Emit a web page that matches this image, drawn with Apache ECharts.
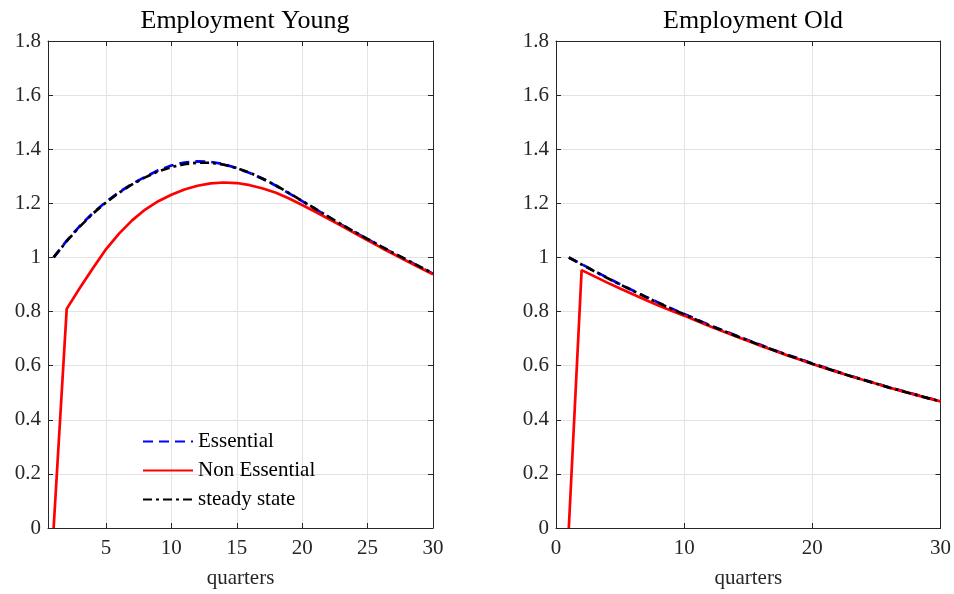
<!DOCTYPE html>
<html>
<head>
<meta charset="utf-8">
<script src="https://cdn.jsdelivr.net/npm/echarts@6/dist/echarts.min.js"></script>
<style>
  html, body { margin: 0; padding: 0; background: #fff; }
  #box { width: 954px; height: 594px; }
</style>
</head>
<body>
<div id="box"></div>
<script>
// quarters 1..30
const quarters = [1, 2, 3, 4, 5, 6, 7, 8, 9, 10, 11, 12, 13, 14, 15, 16, 17, 18, 19, 20, 21, 22, 23, 24, 25, 26, 27, 28, 29, 30]

// Employment Young
const youngEssential = [1.000, 1.062, 1.116, 1.164, 1.205, 1.241, 1.272, 1.298, 1.322, 1.340, 1.351, 1.355, 1.353, 1.345, 1.330, 1.312, 1.290, 1.265, 1.237, 1.208, 1.179, 1.150, 1.121, 1.094, 1.067, 1.041, 1.015, 0.990, 0.965, 0.940]
const youngNonEssential = [0.000, 0.810, 0.887, 0.960, 1.030, 1.088, 1.137, 1.177, 1.208, 1.232, 1.251, 1.265, 1.274, 1.277, 1.275, 1.267, 1.255, 1.239, 1.218, 1.194, 1.169, 1.143, 1.117, 1.090, 1.063, 1.037, 1.012, 0.987, 0.962, 0.938]
const youngSteady = [1.000, 1.060, 1.114, 1.162, 1.203, 1.239, 1.270, 1.296, 1.318, 1.334, 1.345, 1.350, 1.350, 1.343, 1.330, 1.313, 1.291, 1.266, 1.238, 1.209, 1.180, 1.151, 1.122, 1.095, 1.068, 1.042, 1.016, 0.991, 0.966, 0.941]

// Employment Old
const oldEssential = [1.000, 0.975, 0.950, 0.925, 0.901, 0.878, 0.855, 0.833, 0.811, 0.791, 0.770, 0.750, 0.731, 0.712, 0.694, 0.676, 0.658, 0.641, 0.625, 0.608, 0.593, 0.577, 0.562, 0.548, 0.534, 0.520, 0.507, 0.494, 0.481, 0.469]
const oldNonEssential = [0.000, 0.953, 0.930, 0.907, 0.885, 0.864, 0.843, 0.822, 0.803, 0.785, 0.765, 0.746, 0.727, 0.709, 0.691, 0.673, 0.656, 0.639, 0.623, 0.606, 0.591, 0.576, 0.561, 0.547, 0.533, 0.519, 0.506, 0.493, 0.480, 0.468]
const oldSteady = [1.000, 0.974, 0.949, 0.924, 0.900, 0.877, 0.854, 0.832, 0.810, 0.790, 0.769, 0.749, 0.730, 0.711, 0.693, 0.675, 0.657, 0.640, 0.624, 0.607, 0.592, 0.576, 0.561, 0.547, 0.533, 0.519, 0.506, 0.493, 0.480, 0.468]

const youngTicks = [5, 10, 15, 20, 25, 30]
const oldTicks = [0, 10, 20, 30]
const titles = ['Employment Young', 'Employment Old']
const seriesNames = ['Essential', 'Non Essential', 'steady state']

const font = 'Liberation Serif'
const ink = '#262626'
const pair = arr => quarters.map((q, i) => [q, arr[i]])

function xAxisCfg (grid, pos, min, ticks, labels) {
  return {
    type: 'value', gridIndex: grid, position: pos, min: min, max: 30,
    axisLine: { show: true, onZero: false, lineStyle: { color: ink, width: 1 } },
    axisTick: { show: true, inside: true, length: 5, customValues: ticks, lineStyle: { color: ink } },
    axisLabel: { show: labels, customValues: ticks, color: ink, fontFamily: font, fontSize: 21, margin: 10 },
    splitLine: { show: labels, lineStyle: { color: '#e3e3e3', width: 1 } },
    name: labels ? 'quarters' : '', nameLocation: 'middle', nameGap: 40,
    nameTextStyle: { color: ink, fontFamily: font, fontSize: 21 }
  }
}
function yAxisCfg (grid, pos, labels) {
  return {
    type: 'value', gridIndex: grid, position: pos, min: 0, max: 1.8, interval: 0.2,
    axisLine: { show: true, onZero: false, lineStyle: { color: ink, width: 1 } },
    axisTick: { show: true, inside: true, length: 5, lineStyle: { color: ink } },
    axisLabel: { show: labels, color: ink, fontFamily: font, fontSize: 21, margin: 7,
      formatter: v => String(Math.round(v * 10) / 10) },
    splitLine: { show: labels, lineStyle: { color: '#e3e3e3', width: 1 } }
  }
}
function lines (grid, ess, non, ss) {
  return [
    { name: seriesNames[0], type: 'line', xAxisIndex: grid * 2, yAxisIndex: grid * 2, data: pair(ess),
      symbol: 'none', lineStyle: { color: '#0000ff', width: 2.7, type: [10, 6] }, itemStyle: { color: '#0000ff' }, z: 2 },
    { name: seriesNames[1], type: 'line', xAxisIndex: grid * 2, yAxisIndex: grid * 2, data: pair(non),
      symbol: 'none', lineStyle: { color: '#ff0000', width: 2.7 }, itemStyle: { color: '#ff0000' }, z: 3 },
    { name: seriesNames[2], type: 'line', xAxisIndex: grid * 2, yAxisIndex: grid * 2, data: pair(ss),
      symbol: 'none', lineStyle: { color: '#000000', width: 2.7, type: [9, 4, 3, 4] }, itemStyle: { color: '#000000' }, z: 4 }
  ]
}

const chart = echarts.init(document.getElementById('box'), null, { renderer: 'canvas' })
chart.setOption({
  animation: false,
  backgroundColor: '#fff',
  title: [
    { text: titles[0], left: 240, top: 3, textAlign: 'center', textStyle: { fontFamily: font, fontSize: 26, fontWeight: 'normal', color: '#000' } },
    { text: titles[1], left: 748, top: 3, textAlign: 'center', textStyle: { fontFamily: font, fontSize: 26, fontWeight: 'normal', color: '#000' } }
  ],
  legend: {
    data: seriesNames, orient: 'vertical', left: 137, top: 426, itemGap: 8,
    itemWidth: 50, itemHeight: 20,
    itemStyle: { opacity: 0 },
    textStyle: { fontFamily: font, fontSize: 21, color: '#000' },
    selectedMode: false
  },
  grid: [
    { left: 48, right: 521, top: 41, bottom: 63 },
    { left: 556, right: 13, top: 41, bottom: 63 }
  ],
  xAxis: [
    xAxisCfg(0, 'bottom', 0.57, youngTicks, true),
    xAxisCfg(0, 'top', 0.57, youngTicks, false),
    xAxisCfg(1, 'bottom', 0, oldTicks, true),
    xAxisCfg(1, 'top', 0, oldTicks, false)
  ],
  yAxis: [
    yAxisCfg(0, 'left', true),
    yAxisCfg(0, 'right', false),
    yAxisCfg(1, 'left', true),
    yAxisCfg(1, 'right', false)
  ],
  series: [
    ...lines(0, youngEssential, youngNonEssential, youngSteady),
    ...lines(1, oldEssential, oldNonEssential, oldSteady)
  ]
})
</script>
</body>
</html>
